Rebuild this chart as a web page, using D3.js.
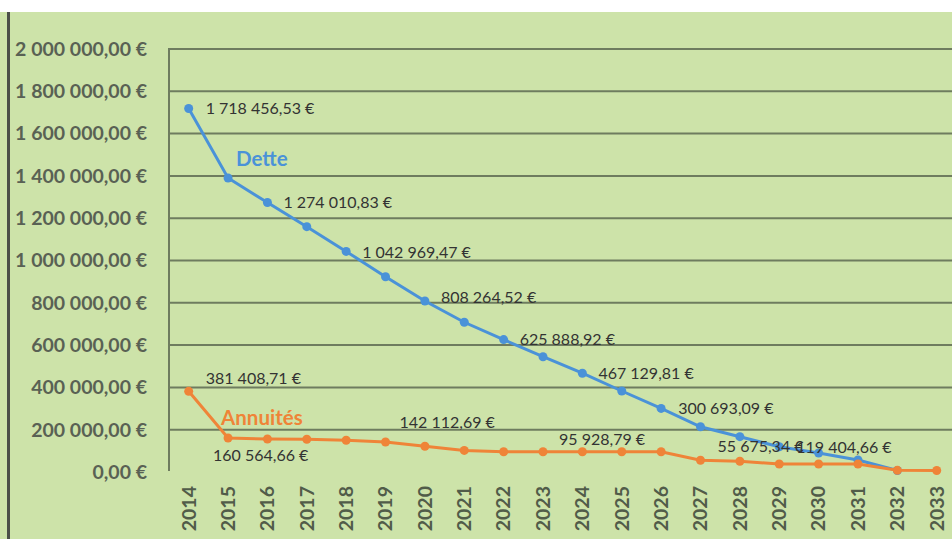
<!DOCTYPE html>
<html>
<head>
<meta charset="utf-8">
<script src="https://cdn.jsdelivr.net/npm/d3@7"></script>
<style>
  body { margin: 0; background: #fff; }
  svg { display: block; }
</style>
</head>
<body>
<svg id="chart" width="952" height="539"></svg>
<script>
const years = d3.range(2014, 2034);
const yTicks = [0, 200000, 400000, 600000, 800000, 1000000, 1200000, 1400000, 1600000, 1800000, 2000000];

const dette = [1718456.53, 1390000, 1274010.83, 1160000, 1042969.47, 923000, 808264.52, 708000, 625888.92, 545000,
    467129.81, 383000, 300693.09, 214000, 167000, 119404.66, 90000, 57000, 7000];
const annuites = [381408.71, 160564.66, 156000, 155000, 150000, 142112.69, 122000, 102000, 96000, 95928.79,
    95928.79, 95928.79, 95928.79, 55675.34, 51000, 38000, 38000, 38000, 8000, 7000];

// labelled points: index in series, offset of the text
const detteLabels = [[0, 17, 0], [2, 16, 0], [4, 16, 1], [6, 16, -4], [8, 16, 0], [10, 16, 0], [12, 17, 0], [15, 17, 1]];
const annuitesLabels = [[0, 17, -13], [1, -15, 17], [5, 14, -20], [9, 16, -12], [13, 17, -14]];

const svg = d3.select("#chart");
const W = 952, H = 539;

const fr = d3.formatLocale({decimal: ",", thousands: " ", grouping: [3], currency: ["", " €"]});
const fmt = v => fr.format(",.2f")(v) + " €";

const x = d3.scaleBand().domain(years).range([169, 169 + 20 * 39.37]);
const cx = yr => x(yr) + x.bandwidth() / 2;
const y = d3.scaleLinear().domain([0, 2000000]).range([472, 49]);

// background
svg.append("rect").attr("x", 0).attr("y", 12).attr("width", W).attr("height", H - 12).attr("fill", "#cde3a9");
svg.append("rect").attr("x", 7).attr("y", 12).attr("width", 3).attr("height", H - 12).attr("fill", "#4b4f48");

// grid
svg.append("g").selectAll("line")
    .data(yTicks.filter(d => d > 0))
    .join("line")
    .attr("x1", 169).attr("x2", W)
    .attr("y1", d => y(d)).attr("y2", d => y(d))
    .attr("stroke", "#6e7c5f").attr("stroke-width", 2);

svg.append("line").attr("x1", 169).attr("x2", 169).attr("y1", y(2000000) - 1).attr("y2", y(0) - 1)
    .attr("stroke", "#6e7c5f").attr("stroke-width", 2);

// y labels
svg.append("g").selectAll("text")
    .data(yTicks)
    .join("text")
    .attr("x", 147).attr("y", d => y(d))
    .attr("dy", "0.35em")
    .attr("text-anchor", "end")
    .attr("font-family", "Lato, sans-serif")
    .attr("font-size", "19.5px")
    .attr("font-weight", "bold")
    .attr("fill", "#596154")
    .text(fmt);

// x labels
svg.append("g").selectAll("text")
    .data(years)
    .join("text")
    .attr("transform", d => `translate(${cx(d)},486) rotate(-90)`)
    .attr("dy", "0.35em")
    .attr("text-anchor", "end")
    .attr("font-family", "Lato, sans-serif")
    .attr("font-size", "19.5px")
    .attr("font-weight", "bold")
    .attr("fill", "#515c49")
    .text(d => d);

const drawSeries = (values, color) => {
    const pts = values.map((v, i) => [cx(years[i]), y(v)]);
    svg.append("path")
        .attr("d", d3.line()(pts))
        .attr("fill", "none")
        .attr("stroke", color)
        .attr("stroke-width", 3);
    svg.append("g").selectAll("circle")
        .data(pts)
        .join("circle")
        .attr("cx", d => d[0]).attr("cy", d => d[1])
        .attr("r", 4.5)
        .attr("fill", color);
};

drawSeries(dette, "#4a92d8");
drawSeries(annuites, "#ef8438");

const drawLabels = (values, labels) => {
    svg.append("g").selectAll("text")
        .data(labels)
        .join("text")
        .attr("x", d => cx(years[d[0]]) + d[1])
        .attr("y", d => y(values[d[0]]) + d[2])
        .attr("dy", "0.35em")
        .attr("font-family", "Lato, sans-serif")
        .attr("font-size", "16px")
        .attr("fill", "#333")
        .text(d => fmt(values[d[0]]));
};

drawLabels(dette, detteLabels);
drawLabels(annuites, annuitesLabels);

// series names
svg.append("text")
    .attr("x", cx(2015) + 8).attr("y", y(dette[1]) - 19)
    .attr("dy", "0.35em")
    .attr("font-family", "Lato, sans-serif").attr("font-size", "20.5px").attr("font-weight", "bold")
    .attr("fill", "#4a92d8")
    .text("Dette");

svg.append("text")
    .attr("x", cx(2015) - 7).attr("y", y(annuites[1]) - 20)
    .attr("dy", "0.35em")
    .attr("font-family", "Lato, sans-serif").attr("font-size", "20.5px").attr("font-weight", "bold")
    .attr("fill", "#ef8438")
    .text("Annuités");
</script>
</body>
</html>
